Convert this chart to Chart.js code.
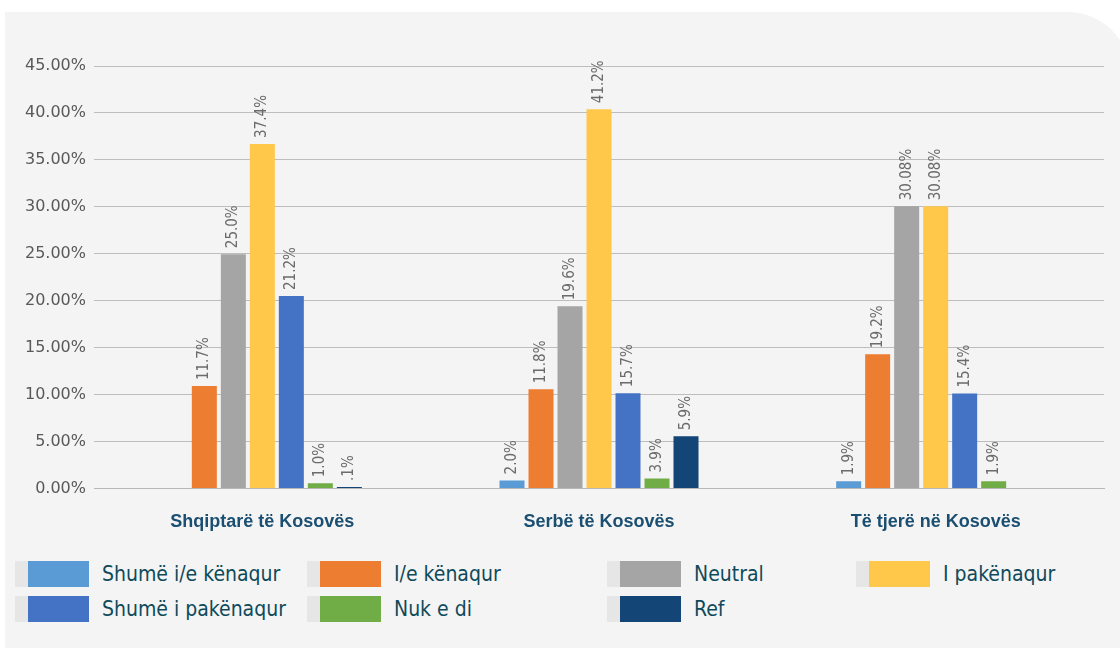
<!DOCTYPE html>
<html>
<head>
<meta charset="utf-8">
<script src="https://cdn.jsdelivr.net/npm/chart.js@4.4.1/dist/chart.umd.min.js"></script>
<style>
  html, body { margin: 0; padding: 0; background: #ffffff; width: 1120px; height: 648px; overflow: hidden; }
  .panel { position: absolute; left: 5px; top: 12px; width: 1125px; height: 650px; background: #f4f4f4; border-top-right-radius: 62px; }
  .chart-box { position: absolute; left: 0; top: 0; width: 1120px; height: 555px; }
  .legend { position: absolute; left: 15px; top: 561px; display: grid; grid-template-columns: 292px 300px 249px 250px; row-gap: 9px; }
  .legend-item { display: flex; align-items: center; height: 26px; white-space: nowrap; }
  .swatch { display: flex; width: 74px; height: 26px; margin-right: 13px; flex: none; }
  .swatch .ghost { width: 13px; background: #e6e6e6; }
  .swatch .fill { flex: 1; }
  .legend-item span { font-family: "DejaVu Sans Condensed", "DejaVu Sans", sans-serif; font-size: 21px; color: #0f4a5b; }
</style>
</head>
<body>
<div class="panel"></div>
<div class="chart-box"><canvas id="chart" width="1120" height="555"></canvas></div>
<div class="legend" id="legend"></div>
<script>
document.addEventListener('DOMContentLoaded', () => {

  const GROUPS = ['Shqiptarë të Kosovës', 'Serbë të Kosovës', 'Të tjerë në Kosovës'];

  const SERIES = ['Shumë i/e kënaqur', 'I/e kënaqur', 'Neutral', 'I pakënaqur', 'Shumë i pakënaqur', 'Nuk e di', 'Ref'];

  const COLORS = ['#5b9bd5', '#ed7d31', '#a5a5a5', '#ffc84b', '#4472c4', '#70ad47', '#134577'];

  // bar heights as drawn (percent)
  const VERY_SATISFIED = [null, 0.85, 0.75];
  const SATISFIED = [10.9, 10.55, 14.3];
  const NEUTRAL = [24.95, 19.4, 30.06];
  const DISSATISFIED = [36.7, 40.4, 30.06];
  const VERY_DISSATISFIED = [20.5, 10.15, 10.1];
  const DONT_KNOW = [0.55, 1.05, 0.75];
  const REFUSED = [0.15, 5.55, null];

  // the printed labels above the bars
  const VERY_SATISFIED_LBL = [null, '2.0%', '1.9%'];
  const SATISFIED_LBL = ['11.7%', '11.8%', '19.2%'];
  const NEUTRAL_LBL = ['25.0%', '19.6%', '30.08%'];
  const DISSATISFIED_LBL = ['37.4%', '41.2%', '30.08%'];
  const VERY_DISSATISFIED_LBL = ['21.2%', '15.7%', '15.4%'];
  const DONT_KNOW_LBL = ['1.0%', '3.9%', '1.9%'];
  const REFUSED_LBL = ['.1%', '5.9%', null];

  const Y_MAX = 45;
  const Y_STEP = 5;

  const values = [VERY_SATISFIED, SATISFIED, NEUTRAL, DISSATISFIED, VERY_DISSATISFIED, DONT_KNOW, REFUSED];
  const labels = [VERY_SATISFIED_LBL, SATISFIED_LBL, NEUTRAL_LBL, DISSATISFIED_LBL, VERY_DISSATISFIED_LBL, DONT_KNOW_LBL, REFUSED_LBL];

  const barLabels = {
    id: 'barLabels',
    afterDatasetsDraw(chart) {
      const ctx = chart.ctx;
      ctx.save();
      ctx.font = '15px "DejaVu Sans Condensed", "DejaVu Sans", sans-serif';
      ctx.fillStyle = '#6b6b6b';
      ctx.textAlign = 'left';
      ctx.textBaseline = 'middle';
      chart.data.datasets.forEach((ds, i) => {
        const meta = chart.getDatasetMeta(i);
        meta.data.forEach((bar, j) => {
          const txt = ds.valueLabels[j];
          if (ds.data[j] === null || !txt) return;
          ctx.save();
          ctx.translate(bar.x, bar.y - 6);
          ctx.rotate(-Math.PI / 2);
          ctx.fillText(txt, 0, 0);
          ctx.restore();
        });
      });
      ctx.restore();
    }
  };

  const ctx = document.getElementById('chart').getContext('2d');

  new Chart(ctx, {
    type: 'bar',
    data: {
      labels: GROUPS,
      datasets: SERIES.map((name, i) => ({
        label: name,
        data: values[i],
        valueLabels: labels[i],
        backgroundColor: COLORS[i],
        barPercentage: 0.862,
        categoryPercentage: 0.603
      }))
    },
    options: {
      responsive: false,
      animation: false,
      layout: { padding: { top: 66, left: 5, right: 16, bottom: 7 } },
      plugins: {
        legend: { display: false },
        tooltip: { enabled: false }
      },
      scales: {
        x: {
          grid: { display: false },
          border: { display: true, color: '#b8b8b8', width: 1 },
          ticks: {
            padding: 15,
            color: '#1b4f72',
            font: { family: '"Liberation Sans", sans-serif', size: 18, weight: 'bold' }
          }
        },
        y: {
          min: 0,
          max: Y_MAX,
          afterFit: (scale) => { scale.width = 89; },
          grid: { color: '#bdbdbd', lineWidth: 1, drawTicks: false },
          border: { display: false },
          ticks: {
            stepSize: Y_STEP,
            padding: 8,
            color: '#595959',
            font: { family: '"DejaVu Sans", sans-serif', size: 16 },
            callback: (v) => v.toFixed(2) + '%'
          }
        }
      }
    },
    plugins: [barLabels]
  });

  // legend
  const legend = document.getElementById('legend');
  SERIES.forEach((name, i) => {
    const item = document.createElement('div');
    item.className = 'legend-item';
    item.innerHTML = `<div class="swatch"><div class="ghost"></div><div class="fill" style="background:${COLORS[i]}"></div></div><span>${name}</span>`;
    legend.appendChild(item);
  });

});
</script>
</body>
</html>
